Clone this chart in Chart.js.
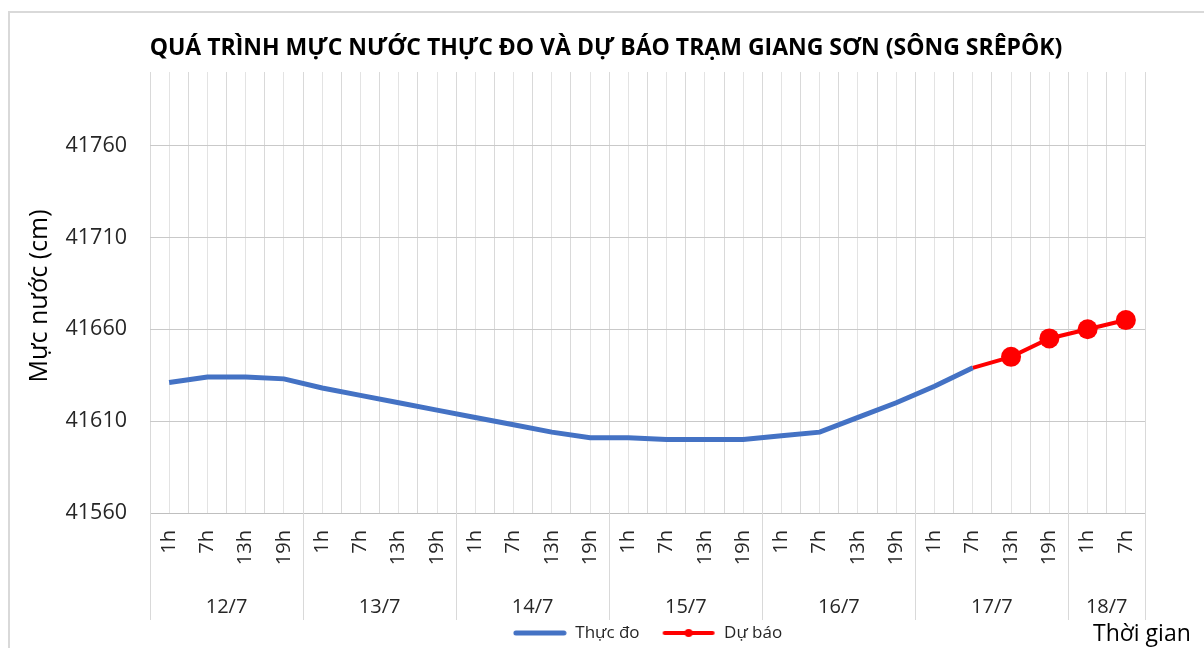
<!DOCTYPE html>
<html>
<head>
<meta charset="utf-8">
<script src="https://cdn.jsdelivr.net/npm/chart.js@4.4.1/dist/chart.umd.min.js"></script>
<style>
  html, body { margin: 0; padding: 0; background: #fff; overflow: hidden; }
  #wrap { position: relative; width: 1204px; height: 648px; }
</style>
</head>
<body>
<div id="wrap"><canvas id="chart"></canvas></div>
<script>
// Water level at Giang Son station (Srepok river): observed + forecast.

const HOURS = [
  '1h', '7h', '13h', '19h',
  '1h', '7h', '13h', '19h',
  '1h', '7h', '13h', '19h',
  '1h', '7h', '13h', '19h',
  '1h', '7h', '13h', '19h',
  '1h', '7h', '13h', '19h',
  '1h', '7h',
];
const DAYS = ['12/7', '13/7', '14/7', '15/7', '16/7', '17/7', '18/7'];
const DAY_SIZES = [4, 4, 4, 4, 4, 4, 2];

const OBSERVED = [
  41631, 41634, 41634, 41633,
  41628, 41624, 41620, 41616,
  41612, 41608, 41604, 41601,
  41601, 41600, 41600, 41600,
  41602, 41604, 41612, 41620,
  41629, 41639, null, null,
  null, null,
];
const FORECAST = [
  null, null, null, null,
  null, null, null, null,
  null, null, null, null,
  null, null, null, null,
  null, null, null, null,
  null, 41639, 41645, 41655,
  41660, 41665,
];
const Y_TICKS = [41560, 41610, 41660, 41710, 41760];
const Y_MIN = 41560;
const Y_MAX = 41800;

const TITLE = 'QUÁ TRÌNH MỰC NƯỚC THỰC ĐO VÀ DỰ BÁO TRẠM GIANG SƠN (SÔNG SRÊPÔK)';
const Y_TITLE = 'Mực nước (cm)';
const X_TITLE = 'Thời gian';

const FONT = '"Open Sans", "Noto Sans", sans-serif';
const TXT = '#262626';
const BLUE = '#4472C4';
const RED = '#FF0000';

function legendSwatch(color, lw, dot) {
  const c = document.createElement('canvas');
  c.width = 54; c.height = 12;
  const g = c.getContext('2d');
  g.strokeStyle = color; g.lineWidth = lw; g.lineCap = 'round';
  g.beginPath(); g.moveTo(3, 6); g.lineTo(51, 6); g.stroke();
  if (dot) { g.fillStyle = color; g.beginPath(); g.arc(27, 6, 4, 0, Math.PI * 2); g.fill(); }
  return c;
}
const SWATCHES = [legendSwatch(BLUE, 5, false), legendSwatch(RED, 4, true)];

// frame, titles and the second level of the category axis (day groups)
const decor = {
  id: 'decor',
  beforeDraw(chart) {
    const { ctx } = chart;
    ctx.save();
    ctx.strokeStyle = '#d9d9d9';
    ctx.lineWidth = 2;
    ctx.beginPath();
    ctx.moveTo(9, 660); ctx.lineTo(9, 12); ctx.lineTo(1210, 12);
    ctx.stroke();
    ctx.restore();
  },
  afterDraw(chart) {
    const { ctx } = chart;
    const x = chart.scales.x;
    const half = (x.getPixelForValue(1) - x.getPixelForValue(0)) / 2;
    const top = chart.chartArea.bottom;
    ctx.save();

    ctx.fillStyle = '#000';
    ctx.font = 'bold 23px ' + FONT;
    ctx.textAlign = 'center';
    ctx.textBaseline = 'middle';
    ctx.fillText(TITLE, 606, 48);

    ctx.fillStyle = '#000';
    ctx.font = '25px ' + FONT;
    ctx.save();
    ctx.translate(40, 296);
    ctx.rotate(-Math.PI / 2);
    ctx.fillText(Y_TITLE, 0, 0);
    ctx.restore();

    ctx.fillStyle = TXT;
    ctx.font = '20px ' + FONT;
    ctx.strokeStyle = '#d9d9d9';
    ctx.lineWidth = 1;
    let start = 0;
    const edges = [0];
    DAY_SIZES.forEach((n, i) => {
      const a = x.getPixelForValue(start) - half;
      const b = x.getPixelForValue(start + n - 1) + half;
      ctx.fillText(DAYS[i], (a + b) / 2, 607);
      start += n;
      edges.push(start);
    });
    edges.forEach((e) => {
      const px = Math.round(x.getPixelForValue(e) - half) + 0.5;
      ctx.beginPath(); ctx.moveTo(px, top); ctx.lineTo(px, 620); ctx.stroke();
    });

    ctx.fillStyle = '#000';
    ctx.font = '23px ' + FONT;
    ctx.textAlign = 'left';
    ctx.fillText(X_TITLE, 1093, 634);
    ctx.restore();
  },
};

new Chart(document.getElementById('chart'), {
  type: 'line',
  data: {
    labels: HOURS,
    datasets: [
      {
        label: 'Thực đo',
        data: OBSERVED,
        borderColor: BLUE,
        backgroundColor: BLUE,
        borderWidth: 5,
        pointRadius: 0,
        tension: 0,
        spanGaps: false,
      },
      {
        label: 'Dự báo',
        data: FORECAST,
        borderColor: RED,
        backgroundColor: RED,
        borderWidth: 4,
        pointRadius: FORECAST.map((v, i) => (v === null || i === 21 ? 0 : 10)),
        pointBorderWidth: 0,
        pointBackgroundColor: RED,
        tension: 0,
      },
    ],
  },
  options: {
    responsive: true,
    maintainAspectRatio: false,
    animation: false,
    layout: { padding: { top: 72, bottom: -3.5, left: 0, right: 59 } },
    plugins: {
      title: { display: false },
      tooltip: { enabled: false },
      legend: {
        position: 'bottom',
        fullSize: false,
        labels: {
          usePointStyle: true,
          pointStyleWidth: 54,
          padding: 22,
          color: TXT,
          font: { family: FONT, size: 17 },
          generateLabels: (chart) => chart.data.datasets.map((ds, i) => ({
            text: ds.label,
            pointStyle: SWATCHES[i],
            fillStyle: ds.borderColor,
            strokeStyle: ds.borderColor,
            lineWidth: 0,
            fontColor: TXT,
            datasetIndex: i,
          })),
        },
      },
    },
    scales: {
      x: {
        type: 'category',
        offset: true,
        grid: { offset: true, color: '#d9d9d9', drawTicks: false },
        border: { color: '#bfbfbf' },
        ticks: {
          color: TXT, font: { family: FONT, size: 20 },
          minRotation: 90, maxRotation: 90, padding: 17, autoSkip: false,
        },
        afterFit: (s) => { s.height = 89.5; },
      },
      x2: {
        type: 'category',
        position: 'bottom',
        offset: true,
        grid: { offset: false, color: '#e3e3e3', drawTicks: false },
        border: { display: false },
        ticks: { display: false },
        afterFit: (s) => { s.height = 0; },
      },
      y: {
        min: Y_MIN,
        max: Y_MAX,
        afterBuildTicks: (s) => { s.ticks = Y_TICKS.map((v) => ({ value: v })); },
        grid: { color: '#c9c9c9', drawTicks: false },
        border: { display: false },
        ticks: {
          color: TXT, font: { family: FONT, size: 21.5 }, padding: 23,
          callback: (v) => String(v),
        },
        afterFit: (s) => { s.width = 150; },
      },
    },
  },
  plugins: [decor],
});
</script>
</body>
</html>
